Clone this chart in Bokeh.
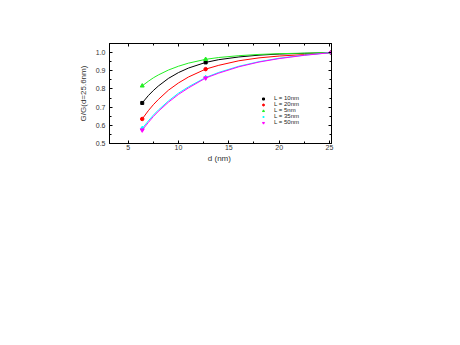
from bokeh.plotting import figure
from bokeh.models import (Range1d, LinearAxis, SingleIntervalTicker, PrintfTickFormatter,
                          Legend, LegendItem)
from bokeh.embed import file_html
from bokeh.resources import INLINE

# measured points
d_pts = [6.4, 12.7, 25.2]
g_L10 = [0.723, 0.946, 1.0]
g_L20 = [0.635, 0.909, 1.0]
g_L5 = [0.817, 0.963, 1.0]
g_L35 = [0.583, 0.863, 1.0]
g_L50 = [0.574, 0.860, 1.0]

# fitted curves
d_curve = [6.4, 7.0, 7.5, 8.0, 9.0, 10.0, 11.0, 12.7, 14.0, 16.0, 18.0, 20.0, 22.5, 25.2]
c_L10 = [0.723, 0.763, 0.791, 0.816, 0.858, 0.890, 0.915, 0.946, 0.961, 0.976, 0.986, 0.992, 0.996, 1.0]
c_L20 = [0.635, 0.680, 0.713, 0.742, 0.793, 0.833, 0.866, 0.909, 0.930, 0.955, 0.971, 0.981, 0.989, 1.0]
c_L5 = [0.817, 0.842, 0.861, 0.877, 0.904, 0.925, 0.942, 0.963, 0.973, 0.983, 0.990, 0.994, 0.997, 1.0]
c_L35 = [0.583, 0.624, 0.656, 0.684, 0.734, 0.777, 0.812, 0.863, 0.891, 0.925, 0.950, 0.969, 0.986, 1.0]
c_L50 = [0.574, 0.615, 0.648, 0.677, 0.727, 0.770, 0.806, 0.860, 0.887, 0.922, 0.948, 0.967, 0.985, 1.0]

labels = ["L = 10nm", "L = 20nm", "L = 5nm", "L = 35nm", "L = 50nm"]
colors = ["black", "#ff0000", "#22ee22", "#00ffff", "#ff00ff"]
markers = ["square", "circle", "triangle", "diamond", "inverted_triangle"]
msizes = [3, 3.5, 4, 4.5, 4]

FONT = "Liberation Sans"

p = figure(output_backend="svg", toolbar_location=None,
           frame_width=222, frame_height=100,
           min_border_left=109, min_border_top=43, min_border_right=100, min_border_bottom=180,
           x_range=Range1d(3.15, 25.2), y_range=Range1d(0.5, 1.05),
           x_axis_type=None, y_axis_type=None)
p.grid.visible = False
p.outline_line_color = "black"
p.outline_line_width = 1
p.background_fill_color = "white"
p.border_fill_color = "white"


def make_axis(kind, show_labels, label=None):
    if kind == "x":
        ax = LinearAxis(ticker=SingleIntervalTicker(interval=5, num_minor_ticks=2))
    else:
        ax = LinearAxis(ticker=SingleIntervalTicker(interval=0.1, num_minor_ticks=2),
                        formatter=PrintfTickFormatter(format="%.1f"))
    ax.major_tick_in = 3
    ax.major_tick_out = 0
    ax.minor_tick_in = 2
    ax.minor_tick_out = 0
    ax.axis_line_color = "black"
    ax.major_tick_line_color = "black"
    ax.minor_tick_line_color = "black"
    ax.major_label_text_font = FONT
    ax.major_label_text_font_size = "7px"
    ax.major_label_text_color = "#333333" if show_labels else None
    ax.major_label_standoff = 1 if kind == "x" else 4
    if label:
        ax.axis_label = label
        ax.axis_label_text_font = FONT
        ax.axis_label_text_font_size = "8px"
        ax.axis_label_text_font_style = "normal"
        ax.axis_label_text_color = "#333333"
        ax.axis_label_standoff = 1 if kind == "x" else 5
    return ax


p.add_layout(make_axis("x", True, "d  (nm)"), "below")
p.add_layout(make_axis("y", True, "G/G(d=25.6nm)"), "left")
p.add_layout(make_axis("x", False), "above")
p.add_layout(make_axis("y", False), "right")

curves = [c_L10, c_L20, c_L5, c_L35, c_L50]
pts = [g_L10, g_L20, g_L5, g_L35, g_L50]
items = []
for lab, col, mk, ms, cy, py in zip(labels, colors, markers, msizes, curves, pts):
    p.line(d_curve, cy, line_color=col, line_width=1)
    r = p.scatter(d_pts, py, marker=mk, size=ms, fill_color=col, line_color=col)
    items.append(LegendItem(label=lab, renderers=[r]))

legend = Legend(items=items, location=(150, 18), orientation="vertical",
                padding=0, margin=0, spacing=0, glyph_width=8, glyph_height=5,
                label_height=5, label_standoff=7,
                label_text_font=FONT, label_text_font_size="6px",
                label_text_color="#222222",
                border_line_color=None, background_fill_alpha=0)
p.add_layout(legend, "center")

open("out.html", "w").write(file_html(p, INLINE))
